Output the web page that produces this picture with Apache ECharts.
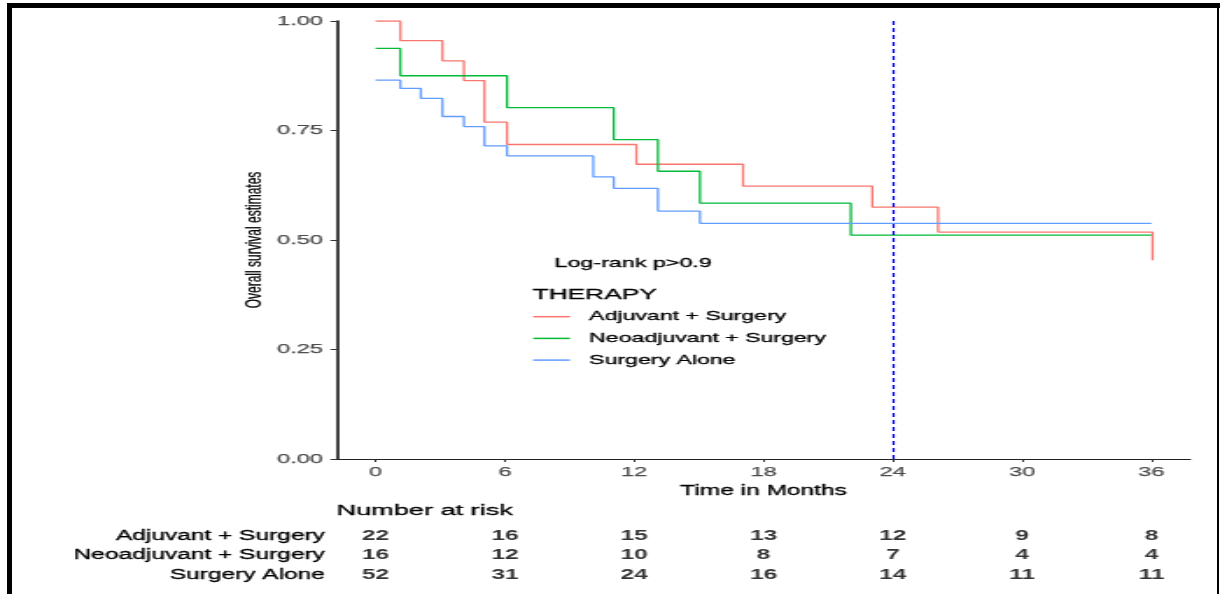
<!DOCTYPE html>
<html>
<head>
<meta charset="utf-8">
<script src="https://cdn.jsdelivr.net/npm/echarts@6/dist/echarts.min.js"></script>
<style>
  html, body { margin: 0; padding: 0; background: #fff; }
  #page { position: relative; width: 1220px; height: 594px; overflow: hidden; background: #fff; }
  /* the survival plot is laid out on a narrow canvas and widened horizontally */
  #chart { position: absolute; left: 0; top: 0; width: 697px; height: 594px;
           transform: scaleX(1.7504); transform-origin: 0 0; }
  .edge { position: absolute; background: #000; }
</style>
</head>
<body>
<div id="page">
  <div id="chart"></div>
  <div class="edge" style="left:7px;top:3px;width:1213px;height:5px;"></div>
  <div class="edge" style="left:7px;top:3px;width:5px;height:591px;"></div>
  <div class="edge" style="left:1217px;top:3px;width:2px;height:591px;"></div>
</div>
<script>
// Kaplan-Meier step points (months, survival probability)
const adjTime  = [0, 1.15, 3.1, 4.1, 5.05, 6.1, 12.1, 17.05, 23.05, 26.1, 36.05];
const adjSurv  = [1.0, 0.955, 0.909, 0.864, 0.769, 0.718, 0.673, 0.623, 0.575, 0.518, 0.454];
const neoTime  = [0, 1.15, 6.1, 11.05, 13.1, 15.05, 22.05, 36];
const neoSurv  = [0.9375, 0.875, 0.802, 0.729, 0.657, 0.584, 0.511, 0.511];
const surgTime = [0, 1.15, 2.1, 3.1, 4.1, 5.05, 6.1, 10.1, 11.05, 13.1, 15.05, 36];
const surgSurv = [0.865, 0.846, 0.8235, 0.782, 0.759, 0.715, 0.692, 0.644, 0.618, 0.566, 0.538, 0.538];

const groups = ['Adjuvant + Surgery', 'Neoadjuvant + Surgery', 'Surgery Alone'];
const groupColors = ['#F8766D', '#00BA38', '#619CFF'];

// axis ticks
const xTicks = [0, 6, 12, 18, 24, 30, 36];
const yTicks = [0, 0.25, 0.5, 0.75, 1];
const landmarkMonth = 24;

// number at risk at each x tick
const riskAdj  = [22, 16, 15, 13, 12, 9, 8];
const riskNeo  = [16, 12, 10, 8, 7, 4, 4];
const riskSurg = [52, 31, 24, 16, 14, 11, 11];

const FONT = '"Liberation Sans", Arial, sans-serif';
const pairs = (t, s) => t.map((v, i) => [v, s[i]]);
const curves = [pairs(adjTime, adjSurv), pairs(neoTime, neoSurv), pairs(surgTime, surgSurv)];
const riskRows = [riskAdj, riskNeo, riskSurg];

const riskData = [];
riskRows.forEach((row, r) => row.forEach((n, i) => riskData.push([xTicks[i], r, n])));

// slightly heavier strokes for text
const ink = (color, w) => ({ textBorderColor: color, textBorderWidth: w });

const chart = echarts.init(document.getElementById('chart'), null, { renderer: 'canvas' });

const kmSeries = curves.map((d, i) => ({
  name: groups[i],
  type: 'line',
  step: 'end',
  xAxisIndex: 0,
  yAxisIndex: 0,
  data: d,
  showSymbol: false,
  symbol: 'none',
  silent: true,
  animation: false,
  lineStyle: { color: groupColors[i], width: 1.3 },
  itemStyle: { color: groupColors[i] },
  markLine: i === 0 ? {
    silent: true,
    symbol: 'none',
    label: { show: false },
    lineStyle: { color: '#0000FF', type: [4, 3], width: 1.2 },
    data: [{ xAxis: landmarkMonth }]
  } : undefined
}));

chart.setOption({
  animation: false,
  backgroundColor: '#fff',
  textStyle: { fontFamily: FONT },
  title: [
    { text: 'THERAPY', left: 304.3, top: 287, padding: 0,
      textStyle: Object.assign({ fontFamily: FONT, fontSize: 15, fontWeight: 'normal', color: '#000' }, ink('#000', 0.3)) },
    { text: 'Log-rank p>0.9', left: 316.8, top: 257.2, padding: 0,
      textStyle: Object.assign({ fontFamily: FONT, fontSize: 13.3, fontWeight: 'normal', color: '#000' }, ink('#000', 0.3)) },
    { text: 'Number at risk', left: 192.2, top: 502.8, padding: 0,
      textStyle: Object.assign({ fontFamily: FONT, fontSize: 15.5, fontWeight: 'normal', color: '#000' }, ink('#000', 0.3)) }
  ],
  legend: {
    orient: 'vertical',
    left: 304.6,
    top: 309.7,
    padding: 0,
    itemWidth: 21,
    itemHeight: 1.5,
    itemGap: 7.7,
    icon: 'rect',
    selectedMode: false,
    data: groups,
    textStyle: Object.assign({ fontFamily: FONT, fontSize: 13.2, color: '#000', lineHeight: 14, padding: [0, 0, 0, 6] }, ink('#000', 0.3))
  },
  grid: [
    { left: 192.4, right: 17, top: 21, bottom: 135, containLabel: false },
    { left: 192.4, right: 17, top: 526.4, height: 57.9, containLabel: false }
  ],
  xAxis: [
    {
      type: 'value', gridIndex: 0, min: -1.8, max: 37.8,
      name: 'Time in Months', nameLocation: 'middle', nameGap: 21.5,
      nameTextStyle: Object.assign({ fontFamily: FONT, fontSize: 14, color: '#000' }, ink('#000', 0.3)),
      splitLine: { show: false },
      axisLine: { show: true, onZero: false, lineStyle: { color: '#222', width: 1 } },
      axisTick: { show: true, length: 3, customValues: xTicks, lineStyle: { color: '#333' } },
      axisLabel: Object.assign({ customValues: xTicks, margin: 6, fontFamily: FONT, fontSize: 13.5, color: '#4d4d4d' }, ink('#4d4d4d', 0.25))
    },
    { type: 'value', gridIndex: 1, min: -1.8, max: 37.8, show: false }
  ],
  yAxis: [
    {
      type: 'value', gridIndex: 0, min: 0, max: 1, interval: 0.25,
      name: 'Overall survival estimates', nameLocation: 'middle', nameGap: 41,
      nameMoveOverlap: false,
      nameTextStyle: Object.assign({ fontFamily: FONT, fontSize: 12, color: '#000' }, ink('#000', 0.2)),
      splitLine: { show: false },
      axisLine: { show: true, onZero: false, lineStyle: { color: '#000', width: 1.5 } },
      axisTick: { show: true, length: 3.6, lineStyle: { color: '#333' } },
      axisLabel: Object.assign({ margin: 8, fontFamily: FONT, fontSize: 13.5, color: '#4d4d4d',
                   formatter: v => v.toFixed(2) }, ink('#4d4d4d', 0.25))
    },
    {
      type: 'category', gridIndex: 1, data: groups, inverse: true,
      axisLine: { show: false }, axisTick: { show: false }, splitLine: { show: false },
      axisLabel: Object.assign({ margin: 6.8, fontFamily: FONT, fontSize: 14, color: '#000' }, ink('#000', 0.3))
    }
  ],
  series: kmSeries.concat([{
    name: 'risk',
    type: 'scatter',
    xAxisIndex: 1,
    yAxisIndex: 1,
    data: riskData,
    symbolSize: 1,
    silent: true,
    itemStyle: { color: 'rgba(0,0,0,0)' },
    label: { show: true, position: 'inside', formatter: p => String(p.data[2]),
             fontFamily: FONT, fontSize: 14, fontWeight: 'bold', color: '#000' }
  }])
});
</script>
</body>
</html>
